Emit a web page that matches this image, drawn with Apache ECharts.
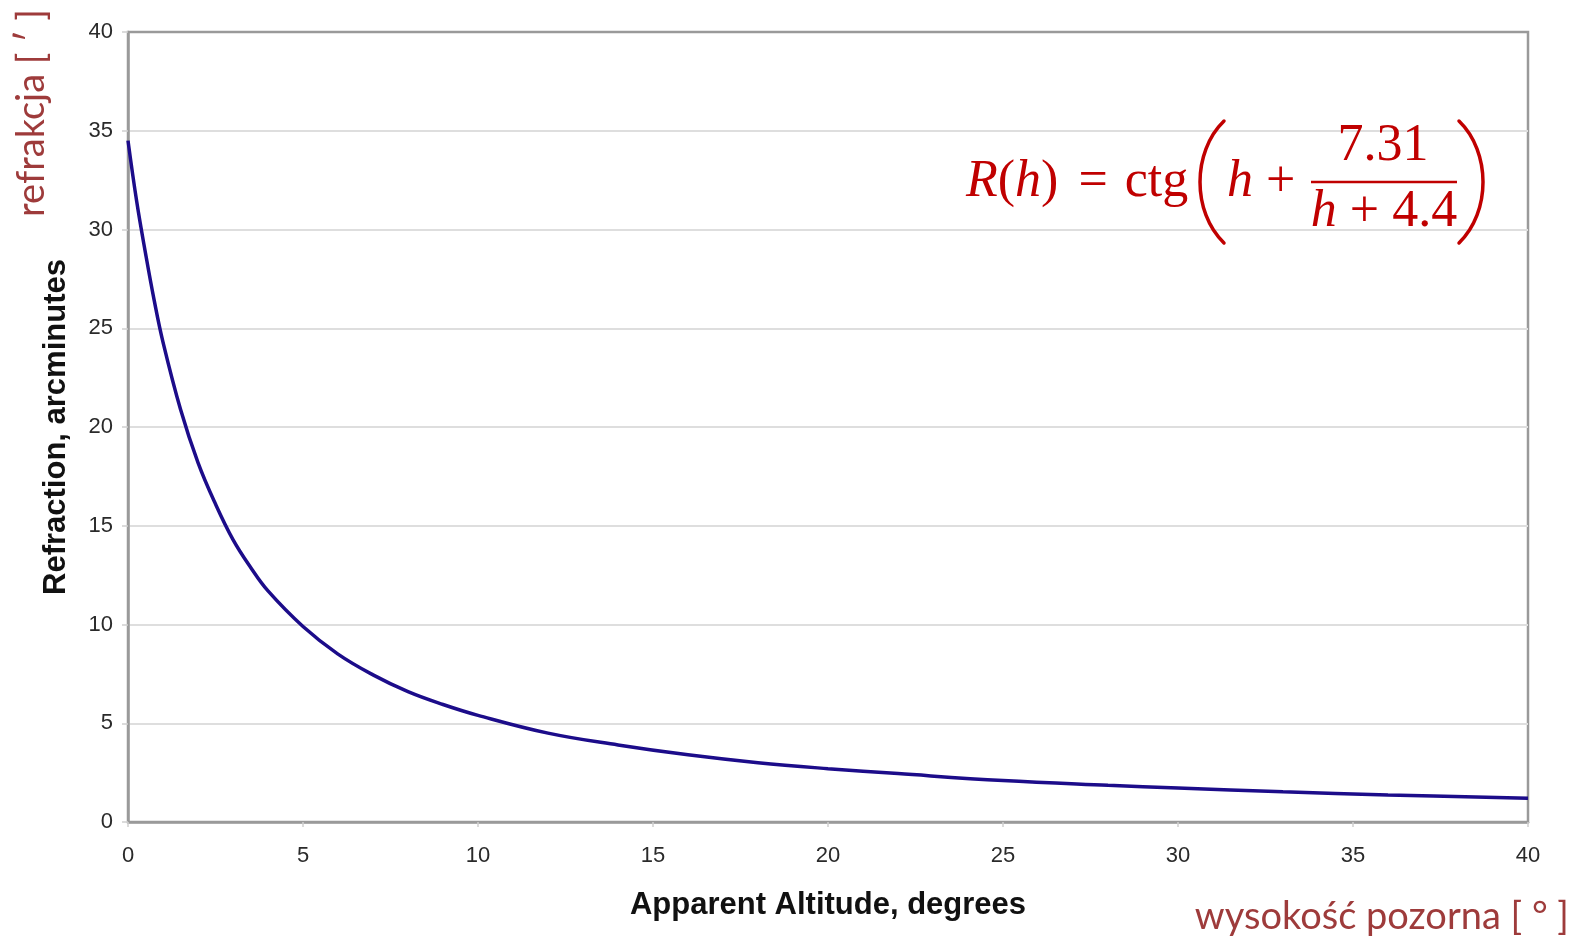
<!DOCTYPE html>
<html>
<head>
<meta charset="utf-8">
<script src="https://cdn.jsdelivr.net/npm/echarts@6/dist/echarts.min.js"></script>
<style>
html,body{margin:0;padding:0;background:#fff;}
#chart{width:1575px;height:940px;}
</style>
</head>
<body>
<div id="chart"></div>
<script>
// Data
const altitude = [0, 0.25, 0.5, 0.75, 1, 1.5, 2, 2.5, 3, 3.5, 4, 5, 6, 7, 8, 9, 10, 12, 14, 16, 18, 20, 22, 25, 28, 30, 33, 36, 40];
const refraction = [34.5, 31.4, 28.8, 26.4, 24.3, 20.9, 18.2, 16.1, 14.3, 12.9, 11.7, 9.9, 8.5, 7.45, 6.6, 5.95, 5.4, 4.5, 3.9, 3.4, 3.0, 2.7, 2.45, 2.1, 1.86, 1.72, 1.53, 1.37, 1.2];
const xTicks = [0, 5, 10, 15, 20, 25, 30, 35, 40];
const yTicks = [0, 5, 10, 15, 20, 25, 30, 35, 40];
const xTitle = 'Apparent Altitude, degrees';
const yTitle = 'Refraction, arcminutes';
const yLabelPl = 'refrakcja [ ′ ]';
const xLabelPl = 'wysokość pozorna [ ° ]';

const chart = echarts.init(document.getElementById('chart'));
const red = '#C00000';
const brown = '#9E3B3B';
const mathFont = '"Liberation Serif", "DejaVu Serif", serif';
const FS = 52;
const richMath = {
  i: {fontStyle: 'italic', fontFamily: mathFont, fontSize: FS, color: red},
  n: {fontFamily: mathFont, fontSize: FS, color: red},
  e: {fontFamily: mathFont, fontSize: FS, color: red, padding: [0, 17, 0, 20]}
};
const sans = '"Liberation Sans", Arial, sans-serif';

chart.setOption({
  animation: false,
  backgroundColor: '#fff',
  grid: {left: 128, right: 47, top: 32, bottom: 118, show: true, borderColor: '#9a9a9a', borderWidth: 2.5, backgroundColor: 'transparent'},
  xAxis: {
    type: 'value', min: xTicks[0], max: xTicks[xTicks.length - 1], interval: 5,
    name: xTitle, nameLocation: 'middle', nameGap: 68,
    nameTextStyle: {fontFamily: sans, fontWeight: 'bold', fontSize: 31, color: '#111'},
    axisLine: {lineStyle: {color: '#9a9a9a', width: 2.5}},
    axisTick: {show: true, length: 5, lineStyle: {color: '#d0d0d0', width: 1.5}},
    axisLabel: {fontFamily: sans, fontSize: 22, color: '#2a2a2a', margin: 23},
    splitLine: {show: false}
  },
  yAxis: {
    type: 'value', min: yTicks[0], max: yTicks[yTicks.length - 1], interval: 5,
    name: yTitle, nameLocation: 'middle', nameGap: 56, nameRotate: 90,
    nameTextStyle: {fontFamily: sans, fontWeight: 'bold', fontSize: 31, color: '#111'},
    axisLine: {show: true, lineStyle: {color: '#9a9a9a', width: 2.5}},
    axisTick: {show: true, length: 6, lineStyle: {color: '#d0d0d0', width: 1.5}},
    axisLabel: {fontFamily: sans, fontSize: 22, color: '#2a2a2a', margin: 15},
    splitLine: {show: true, showMinLine: false, showMaxLine: false, lineStyle: {color: '#dedede', width: 2}}
  },
  series: [{
    type: 'line',
    data: altitude.map((h, k) => [h, refraction[k]]),
    smooth: 0.4,
    showSymbol: false,
    lineStyle: {color: '#1c0c8a', width: 3.5},
    z: 5
  }],
  graphic: {
    elements: [
      {type: 'text', z: 20, x: 966, y: 182, style: {text: '{i|R}{n|(}{i|h}{n|)}{e|=}{n|ctg}', rich: richMath, fill: red, verticalAlign: 'middle'}},
      {type: 'bezierCurve', z: 20, shape: {x1: 1224, y1: 121, cpx1: 1192, cpy1: 152, cpx2: 1192, cpy2: 212, x2: 1224, y2: 243}, style: {stroke: red, lineWidth: 3.5, fill: null, lineCap: 'round'}},
      {type: 'bezierCurve', z: 20, shape: {x1: 1459, y1: 121, cpx1: 1491, cpy1: 152, cpx2: 1491, cpy2: 212, x2: 1459, y2: 243}, style: {stroke: red, lineWidth: 3.5, fill: null, lineCap: 'round'}},
      {type: 'text', z: 20, x: 1227, y: 182, style: {text: '{i|h}{n| +}', rich: richMath, fill: red, verticalAlign: 'middle'}},
      {type: 'line', z: 20, shape: {x1: 1311, y1: 182, x2: 1457, y2: 182}, style: {stroke: red, lineWidth: 2.5}},
      {type: 'text', z: 20, x: 1383, y: 146, style: {text: '{n|7.31}', rich: richMath, fill: red, align: 'center', verticalAlign: 'middle'}},
      {type: 'text', z: 20, x: 1384, y: 212, style: {text: '{i|h}{n| + 4.4}', rich: richMath, fill: red, align: 'center', verticalAlign: 'middle'}},
      {type: 'text', z: 20, x: 32, y: 113, rotation: Math.PI / 2, style: {text: yLabelPl, font: '38px Lato, "Open Sans", sans-serif', fill: brown, align: 'center', verticalAlign: 'middle'}},
      {type: 'text', z: 20, x: 1569, y: 917, style: {text: xLabelPl, font: '38px Lato, "Open Sans", sans-serif', fill: brown, align: 'right', verticalAlign: 'middle'}}
    ]
  }
});
</script>
</body>
</html>
